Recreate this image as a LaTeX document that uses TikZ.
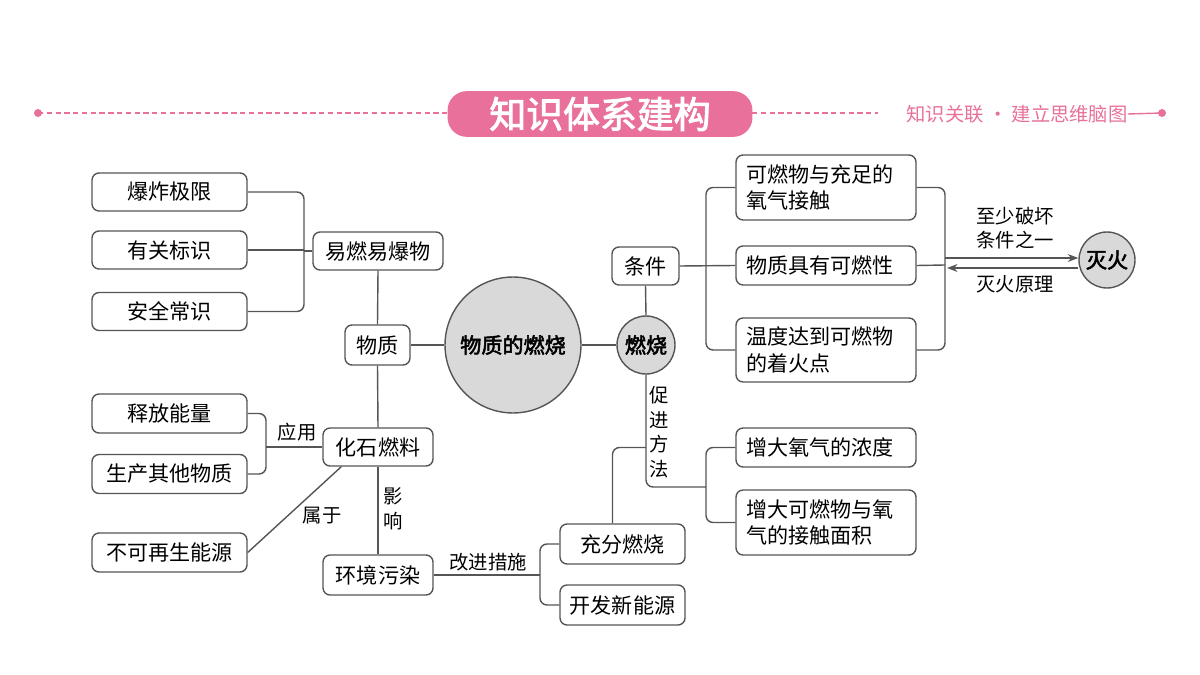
\documentclass[tikz,border=0pt]{standalone}
\usepackage{fontspec}
\setmainfont{Noto Sans CJK SC}
\newfontfamily\cjkb[AutoFakeBold=2.5]{Noto Sans CJK SC}
\usetikzlibrary{arrows.meta}
\definecolor{pk}{HTML}{E8709A}
\definecolor{ln}{HTML}{555555}
\begin{document}
\begin{tikzpicture}[x=0.02cm,y=-0.02cm,
  every node/.style={font=\fontsize{12}{15}\selectfont, text=black},
  box/.style={draw=ln, line width=0.8pt, rounded corners=4pt, fill=white, inner sep=2pt, align=center},
  box2/.style={box, align=left, text width=3.2cm},
  circ/.style={draw=ln, line width=0.8pt, circle, fill=gray!30, inner sep=0pt},
  lbl/.style={font=\fontsize{11}{14}\selectfont, inner sep=0pt, align=center},
  con/.style={draw=ln, line width=0.8pt, rounded corners=4pt}]
\useasboundingbox (0,0) rectangle (1200,675);
% header
\draw[pk, line width=0.8pt, dash pattern=on 3pt off 2pt] (38,113) -- (447,113) (752,113) -- (878,113);
\fill[pk] (38,113) circle (4) (1162,113) circle (4);
\node[fill=pk, rounded corners=11pt, minimum width=6.1cm, minimum height=0.9cm, font=\cjkb\bfseries\fontsize{21}{24}\selectfont, text=white] (title) at (600,114) {知识体系建构};
\node[font=\fontsize{11}{13}\selectfont, text=pk, inner sep=0pt] (sub) at (1017,114) {知识关联 · 建立思维脑图};
\draw[pk, line width=0.8pt] (sub.east) -- (1162,113);
% left top
\node[box, minimum width=3.1cm, minimum height=0.76cm] (bzjx) at (169.5,192) {爆炸极限};
\node[box, minimum width=3.1cm, minimum height=0.76cm] (ygbs) at (169.5,250) {有关标识};
\node[box, minimum width=3.1cm, minimum height=0.76cm] (aqcs) at (169.5,311.5) {安全常识};
\node[box, minimum width=2.6cm, minimum height=0.76cm] (yryb) at (378,251) {易燃易爆物};
\node[box, minimum width=1.3cm, minimum height=0.8cm] (wz) at (377.5,345) {物质};
\node[circ, minimum size=2.72cm, font=\cjkb\bfseries\fontsize{12}{15}\selectfont] (big) at (513,345) {物质的燃烧};
\node[circ, minimum size=1.16cm, font=\cjkb\bfseries\fontsize{12}{15}\selectfont] (rs) at (646,345) {燃烧};
\node[box, minimum width=1.34cm, minimum height=0.76cm] (tj) at (645.5,266) {条件};
\node[box2, minimum width=3.6cm, minimum height=1.3cm] (c1) at (826,187.5) {可燃物与充足的\\氧气接触};
\node[box2, minimum width=3.6cm, minimum height=0.78cm] (c2) at (826,265.5) {物质具有可燃性};
\node[box2, minimum width=3.6cm, minimum height=1.28cm] (c3) at (826,350) {温度达到可燃物\\的着火点};
\node[circ, minimum size=1.12cm, font=\cjkb\bfseries\fontsize{12}{15}\selectfont] (mh) at (1107,260) {灭火};
\node[box2, minimum width=3.6cm, minimum height=0.78cm] (f1) at (826,447.5) {增大氧气的浓度};
\node[box2, minimum width=3.6cm, minimum height=1.3cm] (f2) at (826,522.5) {增大可燃物与氧\\气的接触面积};
\node[box, minimum width=2.2cm, minimum height=0.76cm] (hs) at (378,447) {化石燃料};
\node[box, minimum width=3.1cm, minimum height=0.78cm] (sf) at (169.5,413.5) {释放能量};
\node[box, minimum width=3.1cm, minimum height=0.78cm] (sc) at (169.5,474) {生产其他物质};
\node[box, minimum width=3.1cm, minimum height=0.78cm] (bk) at (169.5,552.5) {不可再生能源};
\node[box, minimum width=2.2cm, minimum height=0.8cm] (hj) at (378,575) {环境污染};
\node[box, minimum width=2.5cm, minimum height=0.8cm] (cf) at (622.5,544) {充分燃烧};
\node[box, minimum width=2.5cm, minimum height=0.8cm] (kf) at (622.5,605) {开发新能源};
% connectors
\coordinate (b1) at (304,251);
\draw[con] (bzjx.east) -| (b1) |- (aqcs.east);
\draw[con] (ygbs.east) -- (ygbs.east -| b1);
\draw[con] (b1) -- (yryb.west);
\draw[con] (yryb.south) -- (wz.north);
\draw[con] (wz.south) -- (hs.north);
\draw[con] (wz.east) -- (big.west);
\draw[con] (big.east) -- (rs.west);
\draw[con] (rs.north) -- (tj.south);
\coordinate (b2) at (706,266);
\draw[con] (tj.east) -- (c2.west);
\draw[con] (c1.west) -| (b2) |- (c3.west);
\coordinate (b3) at (945,265);
\draw[con] (c1.east) -| (b3) |- (c3.east);
\draw[con] (c2.east) -- (b3);
\coordinate (a1) at (945,258);
\coordinate (a2) at (947,268);
\draw[ln, line width=0.8pt, -{Stealth[length=6pt]}] (a1) -- (a1 -| mh.west);
\draw[ln, line width=0.8pt, -{Stealth[length=6pt]}] (a2 -| mh.west) -- (a2);
\node[lbl] (l1) at (1015,228) {至少破坏\\条件之一};
\node[lbl] (l2) at (1015,284) {灭火原理};
\coordinate (b4) at (706,487);
\draw[con] (rs.south) |- (b4);
\draw[con] (f1.west) -| (b4) |- (f2.west);
\draw[con] ([xshift=-0.2cm]cf.north) |- (rs.south |- f1.west);
\node[lbl, text width=0.45cm] (l3) at (659,432) {促\\进\\方\\法};
\coordinate (b5) at (266,447);
\draw[con] (sf.east) -| (b5) |- (sc.east);
\draw[con] (hs.west) -- (b5);
\node[lbl] (l4) at (297,432) {应用};
\draw[con] ([xshift=0.38cm]hs.south west) -- (bk.east);
\node[lbl] (l5) at (322,516) {属于};
\draw[con] (hs.south) -- (hj.north);
\node[lbl, text width=0.45cm] (l6) at (393,509) {影\\响};
\coordinate (b6) at (540,575);
\draw[con] (hj.east) -- (b6);
\draw[con] (cf.west) -| (b6) |- (kf.west);
\node[lbl] (l7) at (488,562) {改进措施};
\end{tikzpicture}
\end{document}
